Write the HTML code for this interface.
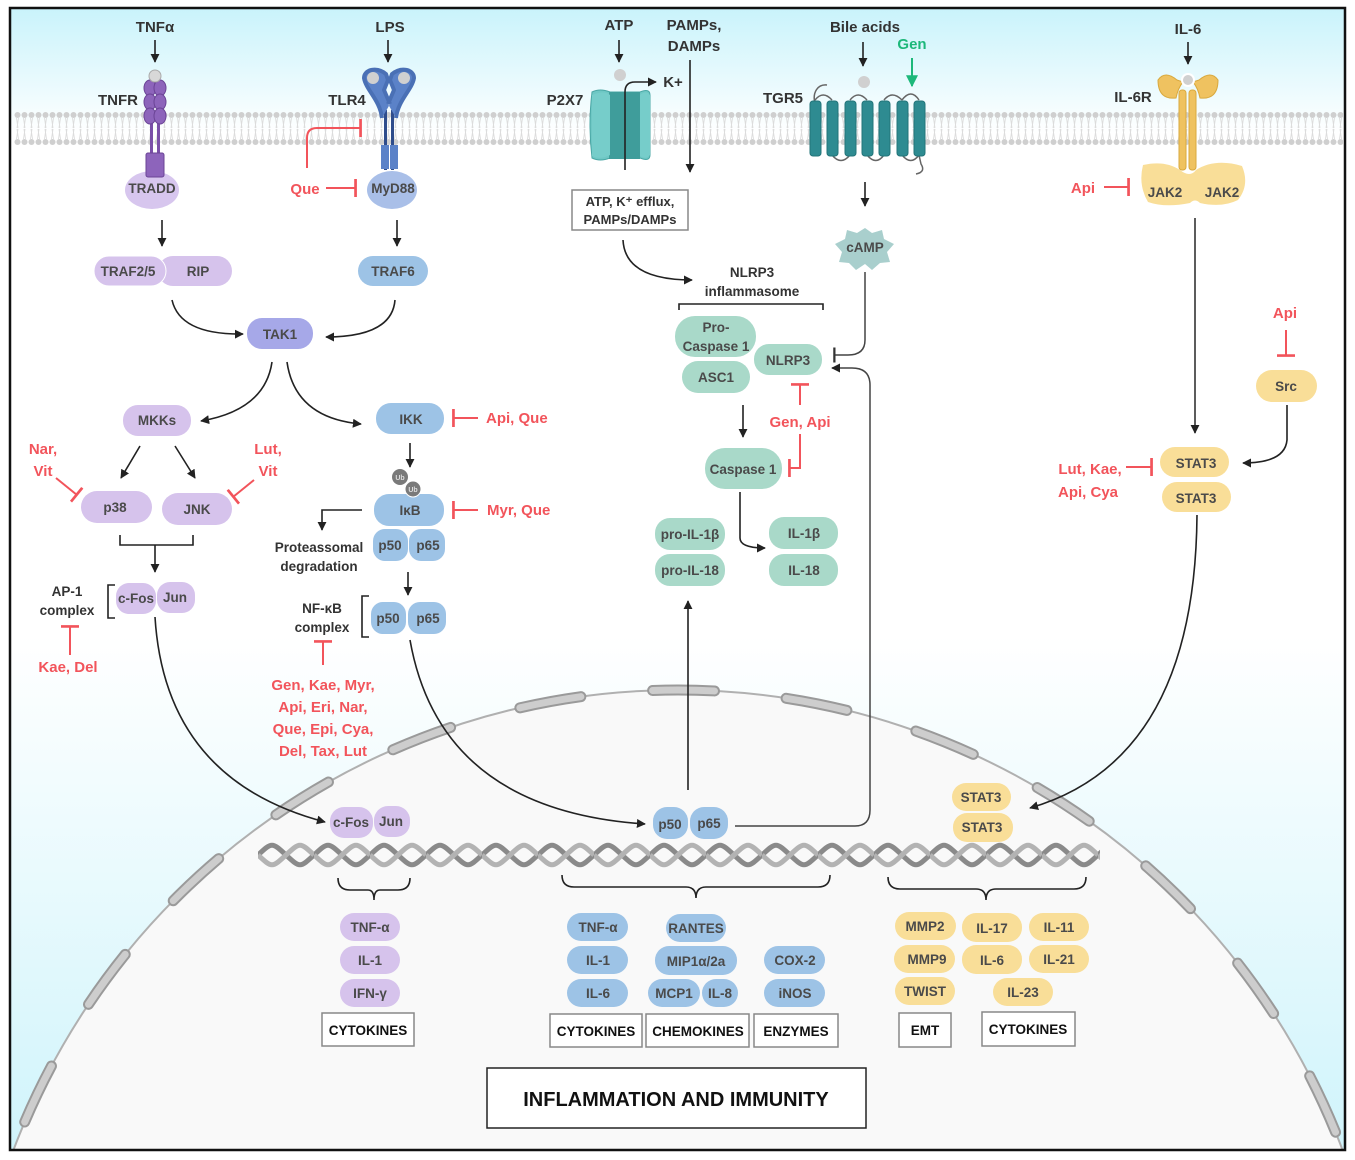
<!DOCTYPE html>
<html><head><meta charset="utf-8"><style>
html,body{margin:0;padding:0;background:#fff;width:1355px;height:1160px;overflow:hidden}
svg{display:block}
text{font-family:"Liberation Sans",Arial,sans-serif;font-weight:bold}
.t{fill:#333;text-anchor:middle}
.p{font-size:13.5px;fill:#4a4a4a;text-anchor:middle}
.r{font-size:15px;fill:#f2545b;text-anchor:middle}
.b{fill:none;stroke:#222;stroke-width:1.6}
.ri{fill:none;stroke:#f2545b;stroke-width:2}
</style></head><body>
<svg width="1355" height="1160" viewBox="0 0 1355 1160" xmlns="http://www.w3.org/2000/svg">
<defs>
<linearGradient id="bg" x1="0" y1="0" x2="0" y2="1">
<stop offset="0" stop-color="#c9f3fb"/><stop offset="0.11" stop-color="#ffffff"/>
<stop offset="0.55" stop-color="#ffffff"/><stop offset="1" stop-color="#d0f4fb"/></linearGradient>
<marker id="ah" viewBox="0 0 10 10" refX="9" refY="5" markerWidth="9" markerHeight="9" markerUnits="userSpaceOnUse" orient="auto"><path d="M0,0 L10,5 L0,10 z" fill="#222"/></marker>
<marker id="ahg" viewBox="0 0 10 10" refX="9" refY="5" markerWidth="12" markerHeight="12" markerUnits="userSpaceOnUse" orient="auto"><path d="M0,0 L10,5 L0,10 z" fill="#1db87a"/></marker>
<marker id="bar" viewBox="0 0 4 20" refX="2" refY="10" markerWidth="4" markerHeight="18" markerUnits="userSpaceOnUse" orient="auto"><rect x="0" y="0" width="3" height="20" fill="#f2545b"/></marker>
<marker id="barb" viewBox="0 0 4 20" refX="2" refY="10" markerWidth="3" markerHeight="16" markerUnits="userSpaceOnUse" orient="auto"><rect x="0" y="0" width="3" height="20" fill="#333"/></marker>
<pattern id="mem" x="0" y="108" width="7" height="40" patternUnits="userSpaceOnUse">
<circle cx="3.5" cy="7" r="3" fill="#cfcfcf"/><circle cx="3.5" cy="34" r="3" fill="#cfcfcf"/>
<path d="M2.5,10 L4,20 M4.5,10 L3,20 M2.5,31 L4,21 M4.5,31 L3,21" stroke="#dcdcdc" stroke-width="0.9"/>
</pattern>
<pattern id="dna" x="258" y="840" width="56" height="30" patternUnits="userSpaceOnUse">
<path d="M0,15 C14,2 14,2 28,15 C42,28 42,28 56,15" fill="none" stroke="#8a8a8a" stroke-width="5"/>
<path d="M0,15 C14,28 14,28 28,15 C42,2 42,2 56,15" fill="none" stroke="#b3b3b3" stroke-width="5"/>
</pattern>
</defs>
<rect x="10" y="8" width="1335" height="1142" fill="url(#bg)"/>
<rect x="14" y="108" width="1329" height="40" fill="url(#mem)"/>
<circle cx="678" cy="1400" r="710" fill="#f9f9f9" stroke="#b0b0b0" stroke-width="2"/>
<circle cx="678" cy="1400" r="710" fill="none" stroke="#9a9a9a" stroke-width="11" stroke-dasharray="62 72" stroke-dashoffset="30" stroke-linecap="round"/>
<circle cx="678" cy="1400" r="710" fill="none" stroke="#cdcdcd" stroke-width="7" stroke-dasharray="62 72" stroke-dashoffset="30" stroke-linecap="round"/>
<rect x="0" y="1151" width="1355" height="10" fill="#fff"/>
<rect x="10" y="8" width="1335" height="1142" fill="none" stroke="#111" stroke-width="2.5"/>
<rect x="258" y="840" width="842" height="30" fill="url(#dna)"/>

<text class="t" x="155" y="32" style="font-size:15px">TNFα</text>
<line class="b" x1="155" y1="40" x2="155" y2="62" marker-end="url(#ah)"/>
<text class="t" x="118" y="105" style="font-size:15px">TNFR</text>
<ellipse cx="152" cy="190" rx="27" ry="19" fill="#d7c6ee"/>
<rect x="150" y="118" width="3" height="40" fill="#7a4fa8"/><rect x="157" y="118" width="3" height="40" fill="#7a4fa8"/>
<rect x="146" y="153" width="18" height="24" rx="2" fill="#8d64bb" stroke="#6b4496"/>
<g fill="#8d64bb" stroke="#6b4496" stroke-width="1">
<ellipse cx="150" cy="88" rx="6" ry="8"/><ellipse cx="160" cy="88" rx="6" ry="8"/>
<ellipse cx="150" cy="102" rx="6" ry="8"/><ellipse cx="160" cy="102" rx="6" ry="8"/>
<ellipse cx="150" cy="116" rx="6" ry="8"/><ellipse cx="160" cy="116" rx="6" ry="8"/></g>
<circle cx="155" cy="76" r="6" fill="#d8d8d8" stroke="#aaa"/>
<text class="p" x="152" y="193">TRADD</text>
<line class="b" x1="162" y1="220" x2="162" y2="246" marker-end="url(#ah)"/>
<rect x="158" y="256" width="74" height="30" rx="15" fill="#d6c3ec"/>
<rect x="94" y="256" width="72" height="30" rx="15" fill="#d6c3ec" stroke="#fff" stroke-width="1"/>
<text class="p" x="128" y="276">TRAF2/5</text><text class="p" x="198" y="276">RIP</text>

<text class="t" x="390" y="32" style="font-size:15px">LPS</text>
<line class="b" x1="388" y1="40" x2="388" y2="62" marker-end="url(#ah)"/>
<text class="t" x="347" y="105" style="font-size:15px">TLR4</text>
<ellipse cx="392" cy="190" rx="25" ry="19" fill="#a9bfe8"/>
<rect x="384" y="110" width="3" height="60" fill="#2f4d8c"/><rect x="391" y="110" width="3" height="60" fill="#2f4d8c"/>
<rect x="381" y="145" width="8" height="24" fill="#5b82c8"/><rect x="390" y="145" width="8" height="24" fill="#5b82c8"/>
<path d="M382,118 C380,100 366,90 364,78 C364,70 376,66 386,74 L388,80 L384,90 L390,104 M396,118 C398,100 412,90 414,78 C414,70 402,66 392,74 L390,80 L394,90 L388,104" fill="#5b82c8" stroke="#4a70b5" stroke-width="4" stroke-linejoin="round"/>
<circle cx="373" cy="78" r="6" fill="#d0d0d0"/><circle cx="404" cy="78" r="6" fill="#d0d0d0"/>
<text class="p" x="393" y="193">MyD88</text>
<text class="r" x="305" y="194">Que</text>
<line class="ri" x1="326" y1="188" x2="356" y2="188" marker-end="url(#bar)"/>
<path class="ri" d="M307,168 L307,138 Q307,128 317,128 L361,128" marker-end="url(#bar)"/>
<line class="b" x1="397" y1="220" x2="397" y2="246" marker-end="url(#ah)"/>
<rect x="358" y="256" width="70" height="30" rx="15" fill="#9dc3e6"/>
<text class="p" x="393" y="276">TRAF6</text>

<path class="b" d="M172,300 Q180,335 243,334" marker-end="url(#ah)"/>
<path class="b" d="M395,300 Q392,337 326,337" marker-end="url(#ah)"/>
<rect x="247" y="318" width="66" height="31" rx="15" fill="#a6a8e8"/>
<text class="p" x="280" y="339">TAK1</text>
<path class="b" d="M272,362 Q265,410 201,421" marker-end="url(#ah)"/>
<path class="b" d="M287,362 Q295,418 361,424" marker-end="url(#ah)"/>

<rect x="123" y="405" width="68" height="31" rx="15" fill="#d6c3ec"/><text class="p" x="157" y="425">MKKs</text>
<line class="b" x1="140" y1="446" x2="121" y2="478" marker-end="url(#ah)"/>
<line class="b" x1="175" y1="446" x2="195" y2="478" marker-end="url(#ah)"/>
<rect x="81" y="491" width="71" height="32" rx="16" fill="#d6c3ec"/><text class="p" x="115" y="512">p38</text>
<rect x="162" y="493" width="70" height="32" rx="16" fill="#d6c3ec"/><text class="p" x="197" y="514">JNK</text>
<text class="r" x="43" y="454">Nar,</text><text class="r" x="43" y="476">Vit</text>
<line class="ri" x1="56" y1="478" x2="77" y2="495" marker-end="url(#bar)"/>
<text class="r" x="268" y="454">Lut,</text><text class="r" x="268" y="476">Vit</text>
<line class="ri" x1="254" y1="480" x2="233" y2="497" marker-end="url(#bar)"/>
<path class="b" d="M120,535 L120,545 L193,545 L193,535"/>
<line class="b" x1="155" y1="545" x2="155" y2="572" marker-end="url(#ah)"/>
<text class="t" x="67" y="596" style="font-size:13.5px">AP-1</text><text class="t" x="67" y="615" style="font-size:13.5px">complex</text>
<path class="b" d="M115,585 L108,585 L108,618 L115,618"/>
<rect x="116" y="583" width="40" height="31" rx="13" fill="#d6c3ec"/><rect x="157" y="582" width="38" height="31" rx="13" fill="#d6c3ec"/>
<text class="p" x="136" y="603">c-Fos</text><text class="p" x="175" y="602">Jun</text>
<line class="ri" x1="70" y1="655" x2="70" y2="626" marker-end="url(#bar)"/>
<text class="r" x="68" y="672">Kae, Del</text>

<rect x="376" y="403" width="68" height="31" rx="15" fill="#9dc3e6"/><text class="p" x="411" y="424">IKK</text>
<line class="ri" x1="478" y1="418" x2="453" y2="418" marker-end="url(#bar)"/>
<text class="r" x="486" y="423" style="text-anchor:start">Api, Que</text>
<line class="b" x1="410" y1="443" x2="410" y2="467" marker-end="url(#ah)"/>
<rect x="374" y="494" width="70" height="32" rx="15" fill="#9dc3e6"/><text class="p" x="410" y="515">IκB</text>
<circle cx="400" cy="477" r="8" fill="#7a7a7a"/><circle cx="413" cy="489" r="8" fill="#7a7a7a" stroke="#fff"/>
<text x="400" y="480" style="font-size:7px" fill="#ddd" text-anchor="middle">Ub</text><text x="413" y="492" style="font-size:7px" fill="#ddd" text-anchor="middle">Ub</text>
<line class="ri" x1="478" y1="510" x2="453" y2="510" marker-end="url(#bar)"/>
<text class="r" x="487" y="515" style="text-anchor:start">Myr, Que</text>
<rect x="373" y="529" width="35" height="32" rx="12" fill="#9dc3e6"/><rect x="409" y="529" width="36" height="32" rx="12" fill="#9dc3e6"/>
<text class="p" x="390" y="550">p50</text><text class="p" x="428" y="550">p65</text>
<path class="b" d="M362,510 L322,510 L322,530" marker-end="url(#ah)"/>
<text class="t" x="319" y="552" style="font-size:13.5px">Proteassomal</text><text class="t" x="319" y="571" style="font-size:13.5px">degradation</text>
<line class="b" x1="408" y1="572" x2="408" y2="595" marker-end="url(#ah)"/>
<text class="t" x="322" y="613" style="font-size:13.5px">NF-κB</text><text class="t" x="322" y="632" style="font-size:13.5px">complex</text>
<path class="b" d="M369,596 L362,596 L362,637 L369,637"/>
<rect x="371" y="602" width="35" height="32" rx="12" fill="#9dc3e6"/><rect x="408" y="602" width="38" height="32" rx="12" fill="#9dc3e6"/>
<text class="p" x="388" y="623">p50</text><text class="p" x="428" y="623">p65</text>
<line class="ri" x1="323" y1="665" x2="323" y2="641" marker-end="url(#bar)"/>
<text class="r" x="323" y="690">Gen, Kae, Myr,</text><text class="r" x="323" y="712">Api, Eri, Nar,</text><text class="r" x="323" y="734">Que, Epi, Cya,</text><text class="r" x="323" y="756">Del, Tax, Lut</text>

<path class="b" d="M155,617 Q165,780 325,822" marker-end="url(#ah)"/>
<path class="b" d="M410,640 Q440,810 645,824" marker-end="url(#ah)"/>

<text class="t" x="619" y="30" style="font-size:15px">ATP</text>
<line class="b" x1="619" y1="40" x2="619" y2="62" marker-end="url(#ah)"/>
<circle cx="620" cy="75" r="6" fill="#d0d0d0"/>
<text class="t" x="565" y="105" style="font-size:15px">P2X7</text>
<path d="M592,92 Q600,88 610,92 L640,92 Q650,88 650,95 L650,155 Q650,162 640,158 L610,158 Q600,162 592,158 Q588,125 592,92 z" fill="#6ec7c4" stroke="#4aa7a5"/>
<rect x="609" y="92" width="31" height="67" fill="#3f9d9b"/>
<path d="M592,95 Q604,90 610,95 L610,155 Q600,160 592,156 z" fill="#76cdca"/>
<path d="M640,95 Q646,90 650,95 L650,155 Q646,160 640,156 z" fill="#76cdca"/>
<path class="b" d="M625,170 L625,92 Q625,82 635,82 L656,82" marker-end="url(#ah)"/>
<text class="t" x="673" y="87" style="font-size:15px">K+</text>
<text class="t" x="694" y="30" style="font-size:15px">PAMPs,</text><text class="t" x="694" y="51" style="font-size:15px">DAMPs</text>
<line class="b" x1="690" y1="60" x2="690" y2="172" marker-end="url(#ah)"/>
<rect x="572" y="190" width="116" height="40" fill="#fff" stroke="#888" stroke-width="1.5"/>
<text class="t" x="630" y="206" style="font-size:13px">ATP, K⁺ efflux,</text><text class="t" x="630" y="224" style="font-size:13px">PAMPs/DAMPs</text>
<path class="b" d="M623,240 Q625,280 692,280" marker-end="url(#ah)"/>
<text class="t" x="752" y="277" style="font-size:13.5px">NLRP3</text><text class="t" x="752" y="296" style="font-size:13.5px">inflammasome</text>
<path class="b" d="M679,310 L679,304 L823,304 L823,310"/>
<rect x="675" y="316" width="81" height="41" rx="20" fill="#a9d9c9"/>
<text class="p" x="716" y="332">Pro-</text><text class="p" x="716" y="351">Caspase 1</text>
<rect x="682" y="361" width="68" height="32" rx="16" fill="#a9d9c9"/><text class="p" x="716" y="382">ASC1</text>
<rect x="754" y="344" width="68" height="31" rx="15" fill="#a9d9c9"/><text class="p" x="788" y="365">NLRP3</text>
<line class="b" x1="743" y1="405" x2="743" y2="437" marker-end="url(#ah)"/>
<rect x="705" y="448" width="77" height="41" rx="20" fill="#a9d9c9"/><text class="p" x="743" y="474">Caspase 1</text>
<line class="ri" x1="800" y1="405" x2="800" y2="384" marker-end="url(#bar)"/>
<text class="r" x="800" y="427">Gen, Api</text>
<path class="ri" d="M800,434 L800,468 L789,468" marker-end="url(#bar)"/>
<path class="b" d="M740,492 L740,538 Q740,548 765,548" marker-end="url(#ah)"/>
<rect x="655" y="518" width="70" height="32" rx="15" fill="#a9d9c9"/><text class="p" x="690" y="539">pro-IL-1β</text>
<rect x="655" y="554" width="70" height="32" rx="15" fill="#a9d9c9"/><text class="p" x="690" y="575">pro-IL-18</text>
<rect x="769" y="517" width="69" height="32" rx="15" fill="#a9d9c9"/><text class="p" x="804" y="538">IL-1β</text>
<rect x="769" y="554" width="69" height="32" rx="15" fill="#a9d9c9"/><text class="p" x="804" y="575">IL-18</text>
<line class="b" x1="688" y1="790" x2="688" y2="601" marker-end="url(#ah)"/>
<path d="M735,826 L855,826 Q870,826 870,810 L870,385 Q870,368 852,368 L832,368" fill="none" stroke="#444" stroke-width="1.5" marker-end="url(#ah)"/>

<text class="t" x="865" y="32" style="font-size:15px">Bile acids</text>
<text x="912" y="49" style="font-size:15px" fill="#1db87a" text-anchor="middle">Gen</text>
<line x1="912" y1="58" x2="912" y2="86" stroke="#1db87a" stroke-width="2" marker-end="url(#ahg)"/>
<line class="b" x1="863" y1="42" x2="863" y2="66" marker-end="url(#ah)"/>
<circle cx="864" cy="82" r="6" fill="#d0d0d0"/>
<text class="t" x="783" y="103" style="font-size:15px">TGR5</text>
<path d="M815,104 C812,92 818,84 827,85 M815,100 Q823,90 832,100 M850,100 Q858,90 867,100 M884,100 Q892,90 902,100 M919,100 Q911,88 902,100 M832,155 Q841,166 850,155 M867,155 Q876,166 884,155 M902,155 Q911,166 919,155 L921,164 Q926,172 916,174" fill="none" stroke="#666" stroke-width="1.5"/>
<g fill="#2e8b91" stroke="#237479">
<rect x="810" y="101" width="11" height="55" rx="3"/><rect x="827" y="101" width="11" height="55" rx="3"/><rect x="845" y="101" width="11" height="55" rx="3"/><rect x="862" y="101" width="11" height="55" rx="3"/><rect x="879" y="101" width="11" height="55" rx="3"/><rect x="897" y="101" width="11" height="55" rx="3"/><rect x="914" y="101" width="11" height="55" rx="3"/></g>
<line class="b" x1="865" y1="182" x2="865" y2="206" marker-end="url(#ah)"/>
<path d="M865,228 L872,233 L882,230 L884,239 L894,244 L887,252 L890,262 L880,263 L872,270 L865,264 L856,270 L849,263 L839,262 L842,252 L835,244 L845,239 L847,230 L857,233 z" fill="#a9cfcd"/>
<text class="p" x="865" y="252">cAMP</text>
<path d="M865,272 L865,340 Q865,355 848,355 L834,355" fill="none" stroke="#444" stroke-width="1.5" marker-end="url(#barb)"/>

<text class="t" x="1188" y="34" style="font-size:15px">IL-6</text>
<line class="b" x1="1188" y1="42" x2="1188" y2="64" marker-end="url(#ah)"/>
<text class="t" x="1133" y="102" style="font-size:15px">IL-6R</text>
<path d="M1143,165 Q1165,160 1180,170 Q1190,178 1196,170 Q1215,158 1242,166 Q1250,185 1238,200 Q1222,208 1200,203 Q1195,198 1190,203 Q1165,208 1148,202 Q1138,185 1143,165 z" fill="#f9de98"/>
<rect x="1179" y="90" width="7" height="80" rx="3" fill="#efc260" stroke="#d9a93e"/>
<rect x="1189" y="90" width="7" height="80" rx="3" fill="#efc260" stroke="#d9a93e"/>
<path d="M1177,80 Q1165,70 1158,80 Q1158,100 1176,98 Q1178,88 1183,82 z M1199,80 Q1211,70 1218,80 Q1218,100 1200,98 Q1198,88 1193,82 z" fill="#efc260" stroke="#d9a93e"/>
<circle cx="1188" cy="80" r="6" fill="#d0d0d0" stroke="#fff" stroke-width="2"/>
<text class="p" x="1165" y="197">JAK2</text><text class="p" x="1222" y="197">JAK2</text>
<text class="r" x="1083" y="193">Api</text>
<line class="ri" x1="1104" y1="187" x2="1129" y2="187" marker-end="url(#bar)"/>
<line x1="1195" y1="218" x2="1195" y2="433" stroke="#333" stroke-width="1.6" marker-end="url(#ah)"/>
<rect x="1160" y="447" width="69" height="30" rx="15" fill="#f9de98"/><text class="p" x="1196" y="468">STAT3</text>
<rect x="1162" y="482" width="69" height="30" rx="15" fill="#f9de98"/><text class="p" x="1196" y="503">STAT3</text>
<text class="r" x="1090" y="474">Lut, Kae,</text><text class="r" x="1088" y="497">Api, Cya</text>
<line class="ri" x1="1126" y1="467" x2="1152" y2="467" marker-end="url(#bar)"/>
<text class="r" x="1285" y="318">Api</text>
<line class="ri" x1="1286" y1="330" x2="1286" y2="356" marker-end="url(#bar)"/>
<rect x="1256" y="370" width="61" height="32" rx="16" fill="#f9de98"/><text class="p" x="1286" y="391">Src</text>
<path class="b" d="M1287,405 L1287,440 Q1285,463 1243,463" marker-end="url(#ah)"/>
<path class="b" d="M1197,515 Q1195,760 1030,808" marker-end="url(#ah)"/>

<rect x="330" y="807" width="43" height="31" rx="14" fill="#d6c3ec"/><rect x="374" y="806" width="36" height="31" rx="14" fill="#d6c3ec"/>
<text class="p" x="351" y="827">c-Fos</text><text class="p" x="391" y="826">Jun</text>
<rect x="653" y="807" width="35" height="32" rx="14" fill="#9dc3e6"/><rect x="690" y="807" width="38" height="32" rx="14" fill="#9dc3e6"/>
<text class="p" x="670" y="829">p50</text><text class="p" x="709" y="828">p65</text>
<rect x="952" y="783" width="59" height="28" rx="14" fill="#f9de98"/><text class="p" x="981" y="802">STAT3</text>
<rect x="953" y="813" width="60" height="29" rx="14" fill="#f9de98"/><text class="p" x="982" y="832">STAT3</text>

<path class="b" d="M338,878 Q338,890 350,890 L368,890 Q374,890 374,900 Q374,890 380,890 L398,890 Q410,890 410,878"/>
<path class="b" d="M562,875 Q562,887 574,887 L686,887 Q696,887 696,898 Q696,887 706,887 L818,887 Q830,887 830,875"/>
<path class="b" d="M888,877 Q888,889 900,889 L976,889 Q986,889 986,900 Q986,889 996,889 L1074,889 Q1086,889 1086,877"/>

<rect x="340" y="913" width="60" height="28" rx="14" fill="#d6c3ec"/><text class="p" x="370" y="932">TNF-α</text>
<rect x="340" y="946" width="60" height="28" rx="14" fill="#d6c3ec"/><text class="p" x="370" y="965">IL-1</text>
<rect x="340" y="979" width="60" height="28" rx="14" fill="#d6c3ec"/><text class="p" x="370" y="998">IFN-γ</text>
<rect x="322" y="1013" width="92" height="33" fill="#fff" stroke="#888" stroke-width="1.5"/><text class="t" x="368" y="1035" style="font-size:13.5px;fill:#111">CYTOKINES</text>

<rect x="567" y="913" width="61" height="28" rx="14" fill="#9dc3e6"/><text class="p" x="598" y="932">TNF-α</text>
<rect x="567" y="946" width="61" height="28" rx="14" fill="#9dc3e6"/><text class="p" x="598" y="965">IL-1</text>
<rect x="567" y="979" width="61" height="28" rx="14" fill="#9dc3e6"/><text class="p" x="598" y="998">IL-6</text>
<rect x="666" y="914" width="60" height="28" rx="14" fill="#9dc3e6"/><text class="p" x="696" y="933">RANTES</text>
<rect x="655" y="946" width="82" height="29" rx="14" fill="#9dc3e6"/><text class="p" x="696" y="966">MIP1α/2a</text>
<rect x="648" y="979" width="52" height="28" rx="14" fill="#9dc3e6"/><text class="p" x="674" y="998">MCP1</text>
<rect x="702" y="979" width="36" height="28" rx="14" fill="#9dc3e6"/><text class="p" x="720" y="998">IL-8</text>
<rect x="764" y="946" width="61" height="28" rx="14" fill="#9dc3e6"/><text class="p" x="795" y="965">COX-2</text>
<rect x="764" y="979" width="61" height="28" rx="14" fill="#9dc3e6"/><text class="p" x="795" y="998">iNOS</text>
<rect x="550" y="1014" width="92" height="33" fill="#fff" stroke="#888" stroke-width="1.5"/><text class="t" x="596" y="1036" style="font-size:13.5px;fill:#111">CYTOKINES</text>
<rect x="646" y="1014" width="103" height="33" fill="#fff" stroke="#888" stroke-width="1.5"/><text class="t" x="698" y="1036" style="font-size:13.5px;fill:#111">CHEMOKINES</text>
<rect x="754" y="1014" width="84" height="33" fill="#fff" stroke="#888" stroke-width="1.5"/><text class="t" x="796" y="1036" style="font-size:13.5px;fill:#111">ENZYMES</text>

<rect x="895" y="912" width="61" height="28" rx="14" fill="#f9de98"/><text class="p" x="925" y="931">MMP2</text>
<rect x="962" y="913" width="60" height="29" rx="14" fill="#f9de98"/><text class="p" x="992" y="933">IL-17</text>
<rect x="1029" y="913" width="60" height="28" rx="14" fill="#f9de98"/><text class="p" x="1059" y="932">IL-11</text>
<rect x="894" y="945" width="61" height="28" rx="14" fill="#f9de98"/><text class="p" x="927" y="964">MMP9</text>
<rect x="962" y="945" width="60" height="29" rx="14" fill="#f9de98"/><text class="p" x="992" y="965">IL-6</text>
<rect x="1029" y="945" width="60" height="28" rx="14" fill="#f9de98"/><text class="p" x="1059" y="964">IL-21</text>
<rect x="895" y="977" width="60" height="28" rx="14" fill="#f9de98"/><text class="p" x="925" y="996">TWIST</text>
<rect x="993" y="978" width="60" height="28" rx="14" fill="#f9de98"/><text class="p" x="1023" y="997">IL-23</text>
<rect x="899" y="1013" width="52" height="34" fill="#fff" stroke="#888" stroke-width="1.5"/><text class="t" x="925" y="1035" style="font-size:13.5px;fill:#111">EMT</text>
<rect x="982" y="1012" width="93" height="34" fill="#fff" stroke="#888" stroke-width="1.5"/><text class="t" x="1028" y="1034" style="font-size:13.5px;fill:#111">CYTOKINES</text>

<rect x="487" y="1068" width="379" height="60" fill="#fff" stroke="#222" stroke-width="1.5"/>
<text class="t" x="676" y="1106" style="font-size:20px;fill:#111">INFLAMMATION AND IMMUNITY</text>
</svg>
</body></html>
